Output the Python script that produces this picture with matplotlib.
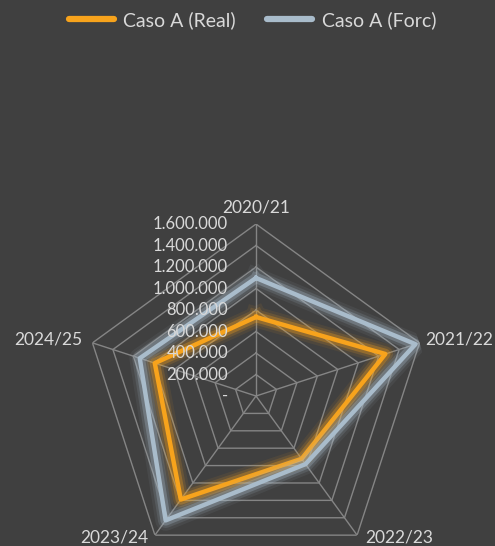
import numpy as np
import matplotlib
matplotlib.use("Agg")
import matplotlib.pyplot as plt
import matplotlib.patheffects as pe
from matplotlib.transforms import offset_copy

plt.rcParams['font.family'] = ['Lato', 'DejaVu Sans']

categorias = ["2020/21", "2021/22", "2022/23", "2023/24", "2024/25"]
real = [735000, 1265000, 722000, 1190000, 990000]
forc = [1098000, 1560000, 783000, 1430000, 1137000]
ticks = [0, 200000, 400000, 600000, 800000, 1000000, 1200000, 1400000, 1600000]
tick_labels = ["-", "200.000", "400.000", "600.000", "800.000",
               "1.000.000", "1.200.000", "1.400.000", "1.600.000"]

fondo = "#404040"
naranja = "#F7A31C"
gris_azul = "#A9BCCB"
texto = "#D9D9D9"
rejilla = "#858585"

fig = plt.figure(figsize=(4.95, 5.46), dpi=100, facecolor=fondo)
ax = fig.add_axes([0.1697, -0.0403, 0.695, 0.630], projection='polar')
ax.set_facecolor(fondo)
ax.patch.set_alpha(0)
ax.set_theta_offset(np.pi / 2)
ax.set_theta_direction(-1)
ax.set_ylim(0, ticks[-1])
ax.grid(False)
ax.spines['polar'].set_visible(False)
ax.set_xticks([])
ax.set_yticks([])

n = len(categorias)
ang = np.linspace(0, 2 * np.pi, n, endpoint=False)
ang_c = np.append(ang, ang[0])

# rejilla pentagonal
for t in ticks[1:]:
    ax.plot(ang_c, [t] * (n + 1), color=rejilla, lw=1, zorder=1)
for a in ang:
    ax.plot([a, a], [0, ticks[-1]], color=rejilla, lw=1, zorder=1)

def brillo(c):
    return [pe.Stroke(linewidth=15, foreground=c, alpha=0.08),
            pe.Stroke(linewidth=11, foreground=c, alpha=0.15),
            pe.Stroke(linewidth=7.5, foreground=c, alpha=0.3),
            pe.Normal()]

ax.plot(ang_c, real + real[:1], color=naranja, lw=3.2, zorder=3,
        label="Caso A (Real)", path_effects=brillo(naranja))
ax.plot(ang_c, forc + forc[:1], color=gris_azul, lw=3.2, zorder=3,
        label="Caso A (Forc)", path_effects=brillo(gris_azul))

# etiquetas del eje radial
tr = offset_copy(ax.transData, fig=fig, x=-28, y=0, units='dots')
for t, lab in zip(ticks, tick_labels):
    ax.text(0, t, lab, transform=tr, ha='right', va='center',
            color=texto, fontsize=12, zorder=5)

# etiquetas de categorias
offs = [(0, 9, 'center', 'bottom'), (6, 3, 'left', 'center'),
        (8, -2, 'left', 'center'), (-7, -2, 'right', 'center'),
        (-10, 3, 'right', 'center')]
for a, lab, (dx, dy, ha, va) in zip(ang, categorias, offs):
    trc = offset_copy(ax.transData, fig=fig, x=dx, y=dy, units='dots')
    ax.text(a, ticks[-1], lab, transform=trc, ha=ha, va=va,
            color=texto, fontsize=12.5)

leg = fig.legend(loc='upper center', bbox_to_anchor=(0.51, 1.012), ncol=2,
                 frameon=False, fontsize=14, handlelength=2.3,
                 columnspacing=1.6, handletextpad=0.5)
for t in leg.get_texts():
    t.set_color(texto)
for h in leg.get_lines():
    h.set_linewidth(4.5)
    h.set_solid_capstyle('round')
    h.set_path_effects([])

fig.savefig("out.png", dpi=100, facecolor=fondo)
